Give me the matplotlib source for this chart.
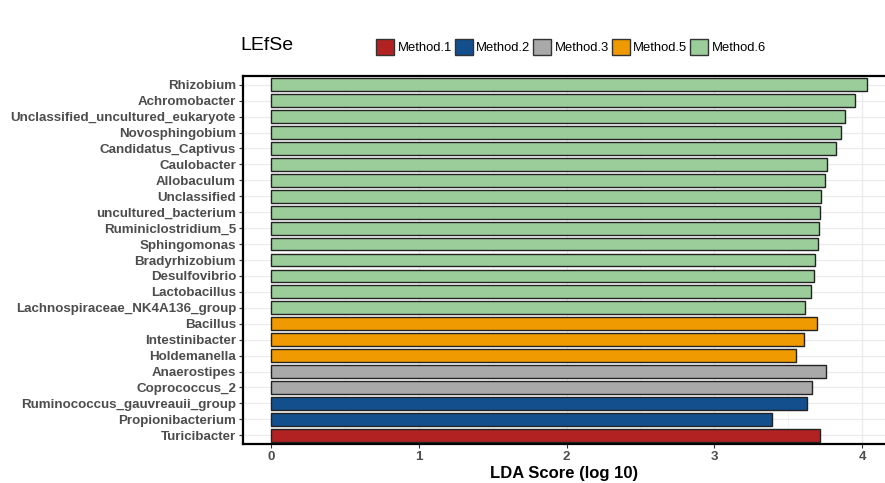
import numpy as np
import matplotlib.pyplot as plt
from matplotlib.patches import Patch

plt.rcParams['font.family'] = ['Liberation Sans', 'DejaVu Sans']

# features, top to bottom
features = ['Rhizobium', 'Achromobacter', 'Unclassified_uncultured_eukaryote',
            'Novosphingobium', 'Candidatus_Captivus', 'Caulobacter', 'Allobaculum',
            'Unclassified', 'uncultured_bacterium', 'Ruminiclostridium_5',
            'Sphingomonas', 'Bradyrhizobium', 'Desulfovibrio', 'Lactobacillus',
            'Lachnospiraceae_NK4A136_group', 'Bacillus', 'Intestinibacter',
            'Holdemanella', 'Anaerostipes', 'Coprococcus_2',
            'Ruminococcus_gauvreauii_group', 'Propionibacterium', 'Turicibacter']
lda = [4.036, 3.953, 3.883, 3.860, 3.826, 3.763, 3.750, 3.720, 3.713, 3.705,
       3.704, 3.684, 3.672, 3.651, 3.613, 3.697, 3.608, 3.554, 3.753, 3.663,
       3.625, 3.388, 3.717]
groups = ['Method.6'] * 15 + ['Method.5'] * 3 + ['Method.3'] * 2 + ['Method.2'] * 2 + ['Method.1']

group_names = ['Method.1', 'Method.2', 'Method.3', 'Method.5', 'Method.6']
group_colors = ['#B22222', '#134F8C', '#A9A9A9', '#EE9A00', '#9BCD9B']
cmap = dict(zip(group_names, group_colors))

fig = plt.figure(figsize=(8.85, 4.83), dpi=100)
ax = fig.add_axes([243 / 885, 1 - 444 / 483, 1 - 243 / 885, (444 - 76) / 483])

n = len(features)
y = np.arange(n)[::-1]
ax.barh(y, lda, height=0.8, color=[cmap[g] for g in groups],
        edgecolor='#222222', linewidth=1.0, zorder=3)

ax.set_xlim(-0.19, 4.155)
ax.set_ylim(-0.55, n - 0.45)
ax.set_yticks(y)
ax.set_yticklabels(features, fontsize=9.6, fontweight='bold', color='#4D4D4D')
ax.set_xticks([0, 1, 2, 3, 4])
ax.set_xticklabels(['0', '1', '2', '3', '4'], fontsize=9.6, fontweight='bold', color='#4D4D4D')
ax.set_xticks([0.5, 1.5, 2.5, 3.5], minor=True)
ax.tick_params(axis='both', which='major', length=3, width=0.8, color='#333333', pad=2)
ax.tick_params(axis='x', which='minor', length=0)
ax.grid(True, which='major', color='#EBEBEB', linewidth=0.9, zorder=0)
ax.grid(True, which='minor', axis='x', color='#F2F2F2', linewidth=0.6, zorder=0)

for side in ['left', 'bottom', 'top']:
    ax.spines[side].set_linewidth(1.6)
    ax.spines[side].set_color('black')
ax.spines['right'].set_visible(False)

ax.set_xlabel('LDA Score (log 10)', fontsize=12, fontweight='bold', labelpad=2)

fig.text(240 / 885, 1 - 46 / 483, 'LEfSe', fontsize=14, va='center', ha='left')

handles = [Patch(facecolor=c, edgecolor='#333333', linewidth=1.0) for c in group_colors]
fig.legend(handles, group_names, loc='center', bbox_to_anchor=(571 / 885, 1 - 47 / 483),
           ncol=5, frameon=False, fontsize=9.4,
           handlelength=1.38, handleheight=1.45, handletextpad=0.28, columnspacing=0.2)

fig.savefig('out.png', dpi=100)
